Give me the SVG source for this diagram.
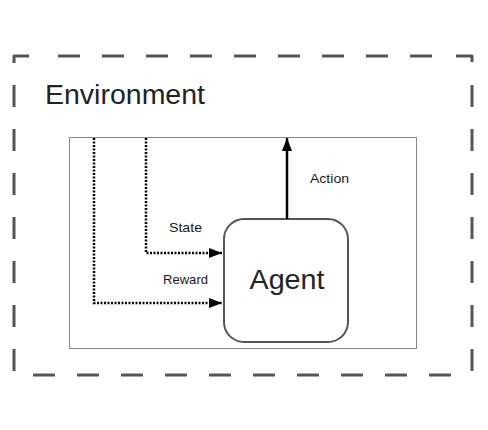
<svg xmlns="http://www.w3.org/2000/svg" width="488" height="430" viewBox="0 0 488 430">
<style>
.lbl{font-family:"Liberation Sans",Arial,sans-serif;fill:#222}
.small{font-size:13px;fill:#1a1a1a}
.dash{fill:none;stroke:#555;stroke-width:3;stroke-dasharray:22 22;stroke-linejoin:round}
.dot{fill:none;stroke:#000;stroke-width:2.5;stroke-dasharray:2 1.5}
</style>
<defs>
<marker id="ah" viewBox="0 0 13 10" refX="13" refY="5" markerWidth="13" markerHeight="10" markerUnits="userSpaceOnUse" orient="auto">
<path d="M0,0 L13,5 L0,10 Z" fill="#000"/>
</marker>
</defs>
<rect width="488" height="430" fill="#fff"/>
<g id="environment">
<path class="dash" d="M14,63 V56 H36"/>
<path class="dash" d="M456,56 H472 V63"/>
<line class="dash" x1="58" y1="56" x2="434" y2="56"/>
<line class="dash" x1="14" y1="85" x2="14" y2="371"/>
<line class="dash" x1="472" y1="85" x2="472" y2="372"/>
<line class="dash" x1="33" y1="375" x2="451" y2="375"/>
<text class="lbl" x="45" y="104" font-size="27" textLength="160" lengthAdjust="spacingAndGlyphs">Environment</text>
</g>
<g id="frame">
<rect x="69.5" y="137.5" width="347" height="211" fill="none" stroke="#888" stroke-width="1"/>
</g>
<g id="agent">
<rect x="224" y="219" width="124" height="123" rx="20" fill="#fff" stroke="#555" stroke-width="2"/>
<text class="lbl" x="287" y="289" font-size="27" text-anchor="middle" textLength="75" lengthAdjust="spacingAndGlyphs">Agent</text>
</g>
<g id="connectors">
<path d="M287,219 L287,138" fill="none" stroke="#000" stroke-width="2.5" marker-end="url(#ah)"/>
<path class="dot" d="M146,138 L146,253 L222,253" marker-end="url(#ah)"/>
<path class="dot" d="M94,138 L94,303 L222,303" marker-end="url(#ah)"/>
<text class="lbl small" x="310" y="183" textLength="39" lengthAdjust="spacingAndGlyphs">Action</text>
<text class="lbl small" x="169" y="232" textLength="33" lengthAdjust="spacingAndGlyphs">State</text>
<text class="lbl small" x="163" y="284" textLength="45" lengthAdjust="spacingAndGlyphs">Reward</text>
</g>
</svg>
